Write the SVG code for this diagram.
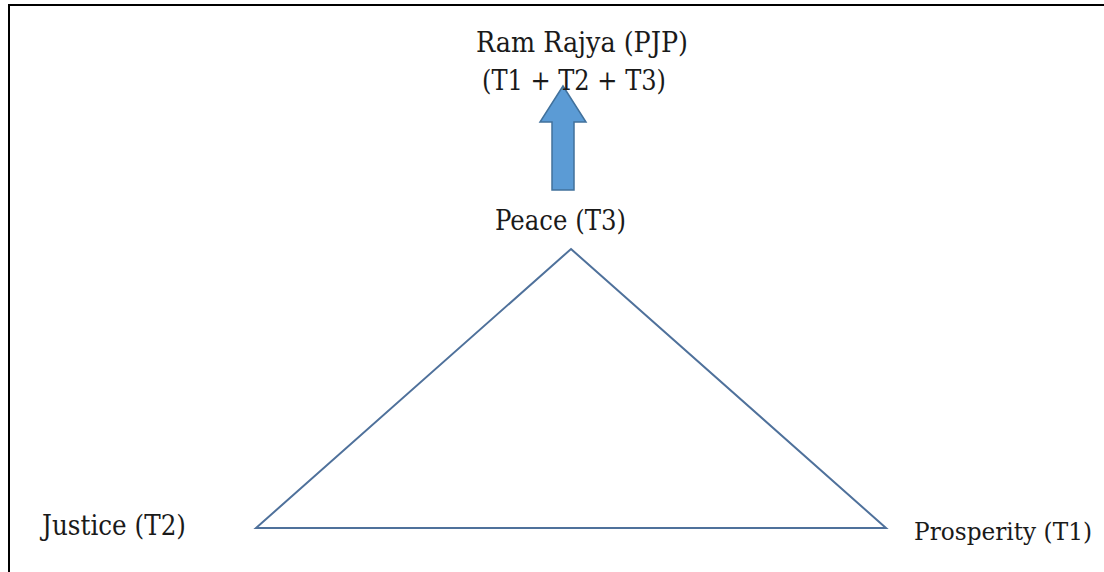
<svg xmlns="http://www.w3.org/2000/svg" width="1104" height="572" viewBox="0 0 1104 572">
<style>
.lbl{font-family:'DejaVu Serif','Liberation Serif',serif;font-size:27px;fill:#1a1a1a}
.frame{fill:none;stroke:#000;stroke-width:2}
</style>
<rect width="1104" height="572" fill="#fff"/>
<path class="frame" d="M9,572 V5 H1104"/>
<g id="connectors">
<polygon id="arrow" points="552,190 574,190 574,122 586,122 563,86 540,122 552,122" fill="#5b9bd5" stroke="#41719c" stroke-width="1.5"/>
</g>
<g id="triangle">
<polygon points="571,249 886,528 256,528" fill="none" stroke="#4f719b" stroke-width="2"/>
</g>
<g id="ramrajya">
<text class="lbl" x="476" y="52" textLength="212" lengthAdjust="spacingAndGlyphs">Ram Rajya (PJP)</text>
<text class="lbl" x="482" y="90" textLength="184" lengthAdjust="spacingAndGlyphs">(T1 + T2 + T3)</text>
</g>
<g id="peace"><text class="lbl" x="495" y="230" textLength="131" lengthAdjust="spacingAndGlyphs">Peace (T3)</text></g>
<g id="justice"><text class="lbl" x="42" y="535" textLength="144" lengthAdjust="spacingAndGlyphs">Justice (T2)</text></g>
<g id="prosperity"><text class="lbl" x="914" y="540" style="font-size:25px" textLength="178" lengthAdjust="spacingAndGlyphs">Prosperity (T1)</text></g>
</svg>
